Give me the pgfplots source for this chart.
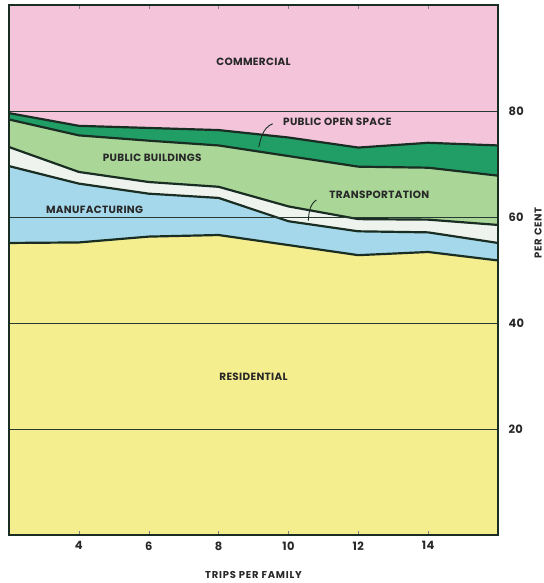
\documentclass[border=0pt]{standalone}
\usepackage{fontspec}
\setmainfont{Poppins}
\newfontfamily\lbl[LetterSpace=3]{Poppins}
\newfontfamily\axl[LetterSpace=8]{Poppins}
\usepackage{pgfplots}
\usepackage{pgfplotstable}
\pgfplotsset{compat=1.18}
\definecolor{comm}{RGB}{243,196,218}
\definecolor{pos}{RGB}{32,158,102}
\definecolor{pbld}{RGB}{170,214,152}
\definecolor{trans}{RGB}{238,243,238}
\definecolor{manu}{RGB}{165,216,234}
\definecolor{resi}{RGB}{245,238,142}
\definecolor{edge}{RGB}{25,45,35}
\definecolor{txt}{RGB}{40,40,40}
% cumulative boundaries (per cent)
\pgfplotstableread{
x   top  posTop pbTop trTop mfTop rsTop
2   100  79.6   78.4  73.2  69.6  55.1
4   100  77.2   75.4  68.5  66.3  55.2
6   100  76.8   74.4  66.6  64.4  56.3
8   100  76.4   73.5  65.7  63.6  56.6
10  100  75.0   71.5  62.0  59.2  54.7
12  100  73.1   69.5  59.6  57.3  52.8
14  100  74.0   69.3  59.5  57.1  53.4
16  100  73.5   67.8  58.5  55.1  51.8
}\data
\begin{document}
\begin{tikzpicture}
\begin{axis}[
  at={(0,0)}, anchor=south west,
  scale only axis, width=489bp, height=530bp,
  xmin=2, xmax=16, ymin=0, ymax=100,
  xtick={4,6,8,10,12,14},
  ytick={20,40,60,80},
  xtick pos=both, tick align=inside,
  major tick length=4bp,
  ytick style={draw=none},
  yticklabel pos=right,
  ymajorgrids, grid style={edge!85!gray, line width=0.5pt},
  axis line style={edge, line width=1.1pt},
  axis on top,
  tick label style={font=\fontsize{11.5}{12}\selectfont\lbl\bfseries, text=txt},
  /pgf/number format/assume math mode=true,
  xticklabel style={yshift=-3bp},
  yticklabel style={xshift=7bp},
  xlabel={TRIPS PER FAMILY},
  xlabel style={font=\fontsize{10}{12}\selectfont\axl\bfseries, text=txt, at={(axis description cs:0.5,-0.075)}, anchor=center},
  ylabel={PER CENT},
  ylabel style={font=\fontsize{10}{12}\selectfont\axl\bfseries, text=txt, at={(axis description cs:1.082,0.57)}, anchor=center},
  every axis plot/.append style={no marks},
]
\addplot[fill=comm, draw=none] table[x=x, y=top] {\data} \closedcycle;
\addplot[fill=pos, draw=none] table[x=x, y=posTop] {\data} \closedcycle;
\addplot[fill=pbld, draw=none] table[x=x, y=pbTop] {\data} \closedcycle;
\addplot[fill=trans, draw=none] table[x=x, y=trTop] {\data} \closedcycle;
\addplot[fill=manu, draw=none] table[x=x, y=mfTop] {\data} \closedcycle;
\addplot[fill=resi, draw=none] table[x=x, y=rsTop] {\data} \closedcycle;
\addplot[edge, line width=2.2pt, line join=round] table[x=x, y=posTop] {\data};
\addplot[edge, line width=2.2pt, line join=round] table[x=x, y=pbTop] {\data};
\addplot[edge, line width=2.2pt, line join=round] table[x=x, y=trTop] {\data};
\addplot[edge, line width=2.2pt, line join=round] table[x=x, y=mfTop] {\data};
\addplot[edge, line width=2.2pt, line join=round] table[x=x, y=rsTop] {\data};
\begin{scope}[every node/.style={font=\fontsize{10.5}{12}\selectfont\lbl\bfseries, text=txt}]
\node at (axis cs:9.0,89.2) {COMMERCIAL};
\node at (axis cs:11.4,78.0) {PUBLIC OPEN SPACE};
\node at (axis cs:6.1,71.2) {PUBLIC BUILDINGS};
\node at (axis cs:12.6,64.2) {TRANSPORTATION};
\node at (axis cs:4.45,61.3) {MANUFACTURING};
\node at (axis cs:9.0,29.8) {RESIDENTIAL};
\end{scope}
\draw[edge, line width=0.9pt] (axis cs:9.55,77.6) .. controls (axis cs:9.25,76.8) and (axis cs:9.2,74.5) .. (axis cs:9.15,73.2);
\draw[edge, line width=0.9pt] (axis cs:10.8,63.2) .. controls (axis cs:10.6,62.4) and (axis cs:10.58,60.5) .. (axis cs:10.57,59.3);
\end{axis}
\pgfresetboundingbox
\path (-9bp,-48bp) rectangle (535bp,535bp);
\end{tikzpicture}
\end{document}
